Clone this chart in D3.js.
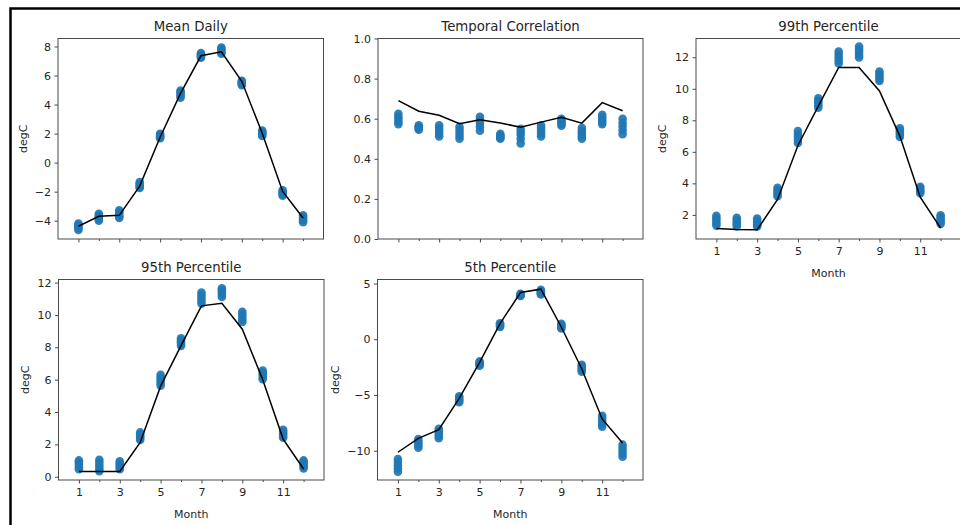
<!DOCTYPE html>
<html>
<head>
<meta charset="utf-8">
<script src="https://cdn.jsdelivr.net/npm/d3@7"></script>
<style>
  html, body { margin: 0; padding: 0; background: #fff; overflow: hidden; }
  svg { display: block; font-family: "DejaVu Sans", sans-serif; }
</style>
</head>
<body>
<svg id="chart" width="960" height="525"></svg>
<script>
// Months on the x axis
const months = [1, 2, 3, 4, 5, 6, 7, 8, 9, 10, 11, 12];
const monthTickLabels = [1, 3, 5, 7, 9, 11];

// Ensemble members per month (rows = months) and the observed line for each statistic
const meanDailyMembers = [
  [-4.2, -4.31, -4.4, -4.52, -4.64], [-3.52, -3.65, -3.74, -3.88, -4.0],
  [-3.28, -3.42, -3.55, -3.7, -3.81], [-1.34, -1.45, -1.55, -1.66, -1.75],
  [1.98, 1.9, 1.82, 1.75, 1.68], [4.96, 4.85, 4.72, 4.6, 4.48],
  [7.54, 7.45, 7.37, 7.3, 7.22], [7.93, 7.82, 7.72, 7.6, 7.5],
  [5.64, 5.56, 5.48, 5.41, 5.34], [2.21, 2.12, 2.02, 1.93, 1.84],
  [-1.91, -2.0, -2.09, -2.19, -2.28], [-3.63, -3.75, -3.86, -3.98, -4.1]
];
const meanDailyObs = [-4.38, -3.7, -3.63, -1.62, 1.75, 4.77, 7.36, 7.63, 5.6, 2.02, -1.98, -3.81];

const correlationMembers = [
  [0.625, 0.61, 0.598, 0.585, 0.573], [0.567, 0.56, 0.556, 0.55, 0.545],
  [0.567, 0.553, 0.54, 0.525, 0.512], [0.56, 0.545, 0.53, 0.515, 0.5],
  [0.61, 0.595, 0.578, 0.56, 0.54], [0.525, 0.516, 0.51, 0.505, 0.5],
  [0.55, 0.535, 0.52, 0.5, 0.477], [0.567, 0.553, 0.54, 0.525, 0.512],
  [0.6, 0.59, 0.582, 0.572, 0.565], [0.555, 0.54, 0.527, 0.513, 0.5],
  [0.62, 0.607, 0.595, 0.583, 0.573], [0.6, 0.58, 0.562, 0.543, 0.523]
];
const correlationObs = [0.69, 0.637, 0.617, 0.575, 0.595, 0.578, 0.558, 0.583, 0.607, 0.578, 0.68, 0.64];

const p99Members = [
  [1.94, 1.78, 1.63, 1.47, 1.32], [1.81, 1.67, 1.53, 1.4, 1.26],
  [1.77, 1.64, 1.51, 1.38, 1.26], [3.72, 3.58, 3.45, 3.32, 3.19],
  [7.32, 7.13, 6.94, 6.75, 6.56], [9.39, 9.24, 9.1, 8.95, 8.8],
  [12.36, 12.17, 11.98, 11.79, 11.6], [12.68, 12.5, 12.33, 12.15, 11.98],
  [11.09, 10.94, 10.8, 10.65, 10.5], [7.49, 7.35, 7.22, 7.08, 6.94],
  [3.78, 3.68, 3.58, 3.48, 3.38], [1.98, 1.84, 1.7, 1.57, 1.43]
];
const p99Obs = [1.13, 1.07, 1.05, 2.98, 6.4, 8.9, 11.35, 11.35, 9.86, 7.0, 3.12, 1.17];

const p95Members = [
  [1.01, 0.88, 0.74, 0.6, 0.47], [1.05, 0.88, 0.7, 0.52, 0.35],
  [0.95, 0.83, 0.71, 0.59, 0.47], [2.74, 2.62, 2.5, 2.39, 2.27],
  [6.3, 6.13, 5.96, 5.79, 5.62], [8.56, 8.44, 8.32, 8.2, 8.09],
  [11.38, 11.21, 11.04, 10.87, 10.7], [11.65, 11.52, 11.38, 11.25, 11.11],
  [10.2, 10.04, 9.88, 9.72, 9.57], [6.57, 6.43, 6.3, 6.16, 6.03],
  [2.9, 2.78, 2.66, 2.53, 2.41], [1.01, 0.89, 0.77, 0.64, 0.52]
];
const p95Obs = [0.33, 0.33, 0.33, 2.12, 5.6, 8.1, 10.56, 10.72, 9.12, 6.0, 2.33, 0.48];

const p5Members = [
  [-10.74, -11.02, -11.3, -11.6, -11.88], [-8.95, -9.15, -9.34, -9.54, -9.73],
  [-8.03, -8.25, -8.46, -8.68, -8.89], [-5.12, -5.26, -5.39, -5.53, -5.66],
  [-1.99, -2.09, -2.19, -2.28, -2.38], [1.44, 1.36, 1.28, 1.19, 1.11],
  [4.07, 4.02, 3.98, 3.93, 3.89], [4.43, 4.33, 4.22, 4.12, 4.01],
  [1.38, 1.28, 1.18, 1.07, 0.97], [-2.29, -2.45, -2.6, -2.76, -2.92],
  [-6.86, -7.11, -7.35, -7.6, -7.85], [-9.46, -9.73, -10.0, -10.27, -10.54]
];
const p5Obs = [-10.14, -8.89, -8.12, -5.3, -2.08, 1.4, 4.19, 4.49, 1.1, -2.65, -7.15, -9.31];

// Y tick values per panel
const meanDailyTicks = [-4, -2, 0, 2, 4, 6, 8];
const correlationTicks = [0, 0.2, 0.4, 0.6, 0.8, 1.0];
const p99Ticks = [2, 4, 6, 8, 10, 12];
const p95Ticks = [0, 2, 4, 6, 8, 10, 12];
const p5Ticks = [-10, -5, 0, 5];

// Panel layout
const panels = [
  { title: "Mean Daily", members: meanDailyMembers, obs: meanDailyObs, yDomain: [-5.26, 8.55],
    yTicks: meanDailyTicks, fmt: d3.format("d"), ylabel: "degC", xLabels: false,
    box: [58, 38.5, 265.5, 200.5], ylabelOffset: 31 },
  { title: "Temporal Correlation", members: correlationMembers, obs: correlationObs, yDomain: [0, 1],
    yTicks: correlationTicks, fmt: d3.format(".1f"), ylabel: null, xLabels: false,
    box: [378, 38.5, 265, 200.5] },
  { title: "99th Percentile", members: p99Members, obs: p99Obs, yDomain: [0.47, 13.19],
    yTicks: p99Ticks, fmt: d3.format("d"), ylabel: "degC", xLabels: true,
    box: [696, 38.5, 265, 200.5], ylabelOffset: 30 },
  { title: "95th Percentile", members: p95Members, obs: p95Obs, yDomain: [-0.2, 12.19],
    yTicks: p95Ticks, fmt: d3.format("d"), ylabel: "degC", xLabels: true,
    box: [58.5, 279.5, 265.5, 200.5], ylabelOffset: 30 },
  { title: "5th Percentile", members: p5Members, obs: p5Obs, yDomain: [-12.63, 5.36],
    yTicks: p5Ticks, fmt: d3.format("d"), ylabel: "degC", xLabels: true,
    box: [377.5, 279.5, 265.5, 200.5], ylabelOffset: 39 }
];

const svg = d3.select("#chart");
const textColor = "#262626";
const spineColor = "#4a4a4a";
const pointColor = "#1f77b4";

// Figure frame (top and left edges visible)
svg.append("rect")
  .attr("x", 10.5).attr("y", 8.5)
  .attr("width", 1000).attr("height", 600)
  .attr("fill", "none").attr("stroke", "#000").attr("stroke-width", 2.5);

const minus = s => String(s).replace("-", "\u2212");

panels.forEach(p => {
  const [left, top, w, h] = p.box;
  const g = svg.append("g").attr("transform", `translate(${left},${top})`);

  const x = d3.scaleLinear().domain([0, 13]).range([0, w]);
  const y = d3.scaleLinear().domain(p.yDomain).range([h, 0]);

  // Ensemble scatter
  const pts = [];
  p.members.forEach((vals, i) => vals.forEach(v => pts.push([months[i], v])));
  g.append("g").selectAll("circle").data(pts).join("circle")
    .attr("cx", d => x(d[0])).attr("cy", d => y(d[1]))
    .attr("r", 4.3).attr("fill", pointColor).attr("fill-opacity", 0.92);

  // Observed line
  g.append("path")
    .datum(p.obs.map((v, i) => [months[i], v]))
    .attr("fill", "none").attr("stroke", "#000").attr("stroke-width", 1.5)
    .attr("d", d3.line().x(d => x(d[0])).y(d => y(d[1])));

  // Y axis
  const yAxis = g.append("g")
    .call(d3.axisLeft(y).tickValues(p.yTicks).tickSize(3.5).tickPadding(3.5)
      .tickFormat(d => minus(p.fmt(d))));
  // X axis: odd months major, even months minor
  const xAxis = g.append("g").attr("transform", `translate(0,${h})`)
    .call(d3.axisBottom(x).tickValues(monthTickLabels).tickSize(3.5).tickPadding(4.5)
      .tickFormat(d => p.xLabels ? d : ""));
  g.append("g").attr("transform", `translate(0,${h})`)
    .call(d3.axisBottom(x).tickValues(months.filter(m => !monthTickLabels.includes(m)))
      .tickSize(2).tickFormat(""))
    .select(".domain").remove();

  [yAxis, xAxis].forEach(a => {
    a.select(".domain").remove();
    a.selectAll("line").attr("stroke", spineColor);
    a.selectAll("text").attr("fill", textColor).style("font-size", "11px")
      .style("font-family", "'DejaVu Sans', sans-serif");
  });
  g.selectAll(".tick line").attr("stroke", spineColor);

  // Axes frame
  g.append("rect").attr("x", 0).attr("y", 0).attr("width", w).attr("height", h)
    .attr("fill", "none").attr("stroke", spineColor).attr("stroke-width", 1);

  // Title
  g.append("text").attr("x", w / 2).attr("y", -8)
    .attr("text-anchor", "middle").attr("fill", textColor)
    .style("font-size", "13.3px").text(p.title);

  // Axis labels
  if (p.ylabel) {
    g.append("text")
      .attr("transform", `translate(${-p.ylabelOffset},${h / 2}) rotate(-90)`)
      .attr("text-anchor", "middle").attr("fill", textColor)
      .style("font-size", "11px").text(p.ylabel);
  }
  if (p.xLabels) {
    g.append("text").attr("x", w / 2).attr("y", h + 38)
      .attr("text-anchor", "middle").attr("fill", textColor)
      .style("font-size", "11px").text("Month");
  }
});
</script>
</body>
</html>
